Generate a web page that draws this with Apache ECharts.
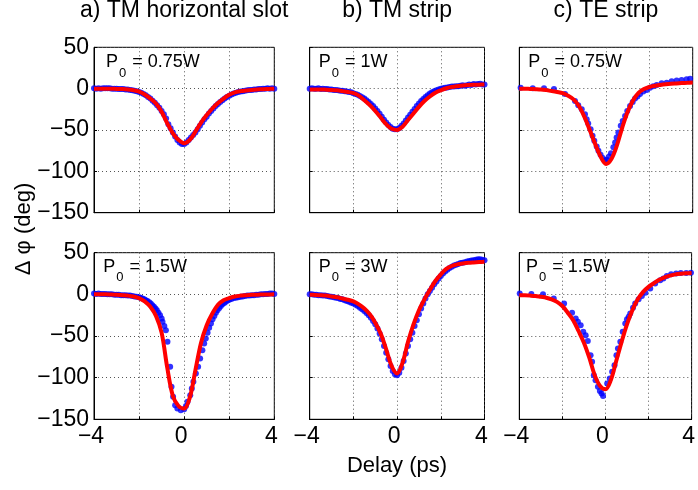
<!DOCTYPE html>
<html><head><meta charset="utf-8">
<script src="https://cdn.jsdelivr.net/npm/echarts@6/dist/echarts.min.js"></script>
<style>html,body{margin:0;padding:0;background:#fff}#c{width:698px;height:490px}</style>
</head><body><div id="c"></div>
<script>
// ---------- data ----------
const panelTitles = ['a) TM horizontal slot', 'b) TM strip', 'c) TE strip'];
const powerLabels = ['0.75W', '1W', '0.75W', '1.5W', '3W', '1.5W'];
const yTicks = [50, 0, -50, -100, -150];
const yTickLabels = ['50', '0', '\u221250', '\u2212100', '\u2212150'];
const xTicks = [-4, 0, 4];
const xTickLabels = ['\u22124', '0', '4'];
const xAxisTitle = 'Delay (ps)';
const yAxisTitle = '\u0394 \u03c6 (deg)';

// x samples of the fitted (red) curves
const delayFit = [-4,-3.75,-3.5,-3.25,-3,-2.75,-2.5,-2.25,-2,-1.75,-1.5,-1.25,-1,-0.75,-0.5,-0.25,0,0.25,0.5,0.75,1,1.25,1.5,1.75,2,2.25,2.5,2.75,3,3.25,3.5,3.75,4];
// x samples of the dense measured (blue) data
const delayDense = [-4.0,-3.9,-3.8,-3.7,-3.6,-3.5,-3.4,-3.3,-3.2,-3.1,-3.0,-2.9,-2.8,-2.7,-2.6,-2.5,-2.4,-2.3,-2.2,-2.1,-2.0,-1.9,-1.8,-1.7,-1.6,-1.5,-1.4,-1.3,-1.2,-1.1,-1.0,-0.9,-0.8,-0.7,-0.6,-0.5,-0.4,-0.3,-0.2,-0.1,0.0,0.1,0.2,0.3,0.4,0.5,0.6,0.7,0.8,0.9,1.0,1.1,1.2,1.3,1.4,1.5,1.6,1.7,1.8,1.9,2.0,2.1,2.2,2.3,2.4,2.5,2.6,2.7,2.8,2.9,3.0,3.1,3.2,3.3,3.4,3.5,3.6,3.7,3.8,3.9,4.0];

// a) top: P0 = 0.75W
const fitA1 = [0,0,0,0,-0.3,-0.5,-1,-2,-3.5,-7,-12,-18,-28,-42,-54,-62,-66,-62,-52,-41,-32,-24,-17.5,-12,-7.5,-4.5,-3,-2.2,-1.5,-1,-0.6,-0.3,0];
const dotsA1 = [0.5,0,0.5,0,0.5,0.5,0.5,0.5,0,0,0,
  -0.5,-0.5,-0.5,-1,-1,-1.5,-2,-2.5,-3,-4,
  -5,-6.5,-8,-10,-12,-14.5,-17,-20,-23,-27,
  -31,-36,-43,-48,-53,-58,-62,-65,-67,-67,
  -65,-62,-59,-56,-53,-49,-45,-41,-37,-34,
  -30,-27,-24,-21,-18.5,-16,-14,-12,-10,-8.5,
  -7,-6,-5,-4,-3.5,-3,-2.5,-2,-1.5,-1.5,
  -1,-1,-0.5,-0.5,0,0,0.5,0,0.5,0];

// b) top: P0 = 1W
const fitB1 = [-1,-1,-1,-1.2,-1.5,-2,-3,-4,-5.5,-8.5,-14,-20,-27,-35,-43,-48.5,-50,-46,-38,-30,-22,-15,-9.5,-5,-2,0.5,2,3,3.8,4.3,4.6,4.8,5];
const dotsB1 = [0,0.5,0,0,0.5,-0.5,0,-0.5,-0.5,-1,-1,
  -1.5,-1.5,-2,-2.5,-2.5,-3,-3.5,-4,-4.5,-5.5,
  -6.5,-7.5,-9,-10.5,-12,-14,-16,-18.5,-21,-24,
  -27,-30.5,-34,-37.5,-41,-44,-46.5,-48.5,-49,-49,
  -47.5,-45,-42,-38.5,-35,-31.5,-28,-24.5,-21,-18,
  -15,-12.5,-10,-8,-6,-4.5,-3,-2,-1,0,
  0.5,1,1.5,2,2.5,2.5,3,3,3.5,4,
  3.5,4,5,4.5,5.5,5,5.5,6,5,5];

// c) top: P0 = 0.75W
const fitC1 = [0,0,-0.3,-0.6,-1,-1.8,-2.8,-4,-5.5,-8.5,-13,-21,-34,-50,-67,-82,-91,-85,-69,-47,-28,-14,-5,-0.5,2,3.5,4.5,5.3,5.9,6.3,6.7,7,7.3];
const dotsC1X = [-3.94,-3.38,-2.86,-2.4,-1.89,-1.43,-1.28,-1.12,-0.97,-0.89,-0.82,-0.71,-0.62,-0.54,-0.43,-0.35,-0.25,-0.15,-0.05,0.03,0.14,0.23,0.34,0.42,0.49,0.57,0.68,0.77,0.88,0.98,1.11,1.23,1.34,1.45,1.57,1.72,1.88,2.03,2.18,2.34,2.57,2.8,3.03,3.26,3.49,3.72,3.88];
const dotsC1Y = [1,0.5,0.5,-0.5,-6.5,-15,-20,-25,-31,-37,-42,-49,-57,-63,-70,-75,-80,-84,-87,-86,-82,-78,-71,-65,-59,-53,-45,-39,-33,-27,-21,-16,-12,-9.5,-6.5,-3.5,-1.5,1,3,4.5,6.5,7,9,10,10.5,11.5,12];

// a) bottom: P0 = 1.5W
const fitA2 = [0,0,0,-0.2,-0.5,-1,-1.5,-2.5,-4.5,-8.5,-15,-26,-46,-88,-122,-134,-137,-124,-91,-58,-37,-23,-12.5,-7,-4.5,-2.5,-1.5,-1,-0.6,-0.4,-0.2,-0.1,0];
const dotsA2X = [-4.0,-3.9,-3.8,-3.7,-3.6,-3.5,-3.4,-3.3,-3.2,-3.1,-3.0,-2.9,-2.8,-2.7,-2.6,-2.5,-2.4,-2.3,-2.2,-2.1,-2.0,
  -1.93,-1.85,-1.77,-1.7,-1.63,-1.55,-1.48,-1.41,-1.34,-1.27,-1.21,-1.14,-1.07,-1.0,-0.96,-0.88,-0.81,-0.74,-0.62,-0.56,
  -0.49,-0.4,-0.3,-0.15,0,0.08,0.15,0.27,0.34,0.41,0.52,0.62,0.71,0.81,0.89,0.96,1.04,1.11,1.19,1.26,
  1.34,1.41,1.48,1.56,1.63,1.7,1.78,1.85,1.93,2.0,
  2.1,2.2,2.3,2.4,2.5,2.6,2.7,2.8,2.9,3.0,3.1,3.2,3.3,3.4,3.5,3.6,3.7,3.8,3.9,4.0];
const dotsA2Y = [1,0.5,1,0.5,0.5,0.5,0,0,0,-0.5,-0.5,-0.5,-1,-1,-1,-1.5,-1.5,-2,-2.5,-3,-3.5,
  -4,-5,-6,-7,-8,-9.5,-11,-13,-15,-17,-19,-22,-25,-29,-33,-38,-43,-57,-87,-111,
  -123,-133,-137,-139,-138,-134,-129,-121,-113,-105,-95,-87,-77,-67,-59,-53,-46,-40,-35,-30,
  -26,-22,-19,-16.5,-14,-12,-10.5,-9,-7.5,-6.5,
  -5.5,-4.5,-4,-3.5,-3,-2.5,-2,-1.5,-1.5,-1,-1,-0.5,-0.5,0,0,0.5,0.5,1,1,0.5];

// b) bottom: P0 = 3W
const fitB2 = [-0.5,-0.7,-1,-1.5,-2.5,-3.5,-5,-6.5,-8.5,-12,-17,-24,-34,-47,-66,-86,-95,-82,-57,-36,-19,-6,5.5,16,24,30.5,34,36,37,37.8,38.3,38.7,39];
const dotsB2 = [0,0,-0.5,-0.5,-1,-1,-1.5,-1.5,-2,-2.5,-3,
  -3.5,-4,-4.5,-5.5,-6,-7,-8,-9,-10,-11,
  -12.5,-14,-16,-18,-20,-22.5,-25,-28,-32,-36,
  -41,-47,-54,-62,-70,-78,-86,-92,-96,-97,
  -94,-88,-80,-71,-62,-54,-46,-38,-31,-24,
  -17,-11,-5,0,4,8,12,15.5,19,22,
  25,27.5,29.5,31.5,33,34.5,35.5,36.5,37.5,38,
  38.5,39.5,40,40.5,41,41.5,42,42,41.5,41];

// c) bottom: P0 = 1.5W
const fitC2 = [-1,-1.2,-1.5,-2,-3,-4,-6,-9,-14,-22,-31,-44,-58,-76,-97,-110,-114,-103,-80,-57,-36,-19,-6,3,9,13.5,17.5,20.5,22.5,24,24.8,25.3,25.6];
const dotsC2X = [-3.98,-3.44,-2.9,-2.4,-1.92,-1.55,-1.38,-1.28,-1.15,-1.03,-0.92,-0.82,-0.69,-0.62,-0.54,-0.46,-0.35,-0.26,-0.18,-0.11,0.08,0.2,0.31,0.42,0.51,0.58,0.69,0.8,0.92,1.0,1.08,1.15,1.28,1.38,1.54,1.69,1.85,2.08,2.31,2.54,2.69,2.85,3.05,3.28,3.5,3.75,3.97];
const dotsC2Y = [1,0.5,0,-5,-11,-22,-29,-33,-37,-45,-49,-56,-73,-81,-97,-103,-111,-116,-119,-122,-107,-101,-93,-85,-73,-65,-57,-45,-35,-30,-27,-23,-16,-11,-6,-2,2,7,13,17,19,22,24,25,25.5,25.5,26];

// ---------- layout ----------
const FONT = '"Liberation Sans", Arial, Helvetica, sans-serif';
const colLeft = [94, 309.7, 519.3];
const colWidth = [180.3, 174.8, 173.4];
const rowTop = [47.3, 252.7];
const rowHeight = [165.4, 166.6];
const labelPos = [[106, 53.5], [318.7, 53.5], [528.3, 53.5], [103.3, 258], [318.7, 258], [526, 258]];

const panels = [
  {fit: fitA1, dx: delayDense, dy: dotsA1},
  {fit: fitB1, dx: delayDense, dy: dotsB1},
  {fit: fitC1, dx: dotsC1X, dy: dotsC1Y},
  {fit: fitA2, dx: dotsA2X, dy: dotsA2Y},
  {fit: fitB2, dx: delayDense, dy: dotsB2},
  {fit: fitC2, dx: dotsC2X, dy: dotsC2Y}
];

const grids = [], xAxes = [], yAxes = [], series = [], graphics = [];
panels.forEach((p, i) => {
  const row = Math.floor(i / 3), col = i % 3;
  grids.push({left: colLeft[col], top: rowTop[row], width: colWidth[col], height: rowHeight[row],
    show: true, borderColor: '#000', borderWidth: 1, backgroundColor: '#fff'});
  xAxes.push({type: 'value', gridIndex: i, min: -4, max: 4, interval: 2,
    axisLine: {show: true, onZero: false, lineStyle: {color: '#000', width: 1}},
    axisTick: {show: true, inside: true, length: 3, lineStyle: {color: '#000'}},
    splitLine: {show: true, lineStyle: {color: '#555', width: 1, type: [1, 3]}},
    axisLabel: {show: row === 1, fontSize: 23, fontFamily: FONT, color: '#000', margin: 6,
      padding: [0, 6, 0, 0],
      formatter: v => { const k = xTicks.indexOf(v); return k >= 0 ? xTickLabels[k] : ''; }}
  });
  yAxes.push({type: 'value', gridIndex: i, min: -150, max: 50, interval: 50,
    axisLine: {show: true, onZero: false, lineStyle: {color: '#000', width: 1}},
    axisTick: {show: true, inside: true, length: 3, lineStyle: {color: '#000'}},
    splitLine: {show: true, lineStyle: {color: '#555', width: 1, type: [1, 3]}},
    axisLabel: {show: col === 0, fontSize: 23, fontFamily: FONT, color: '#000', margin: 5,
      formatter: v => { const k = yTicks.indexOf(v); return k >= 0 ? yTickLabels[k] : ''; }}
  });
  series.push({type: 'scatter', xAxisIndex: i, yAxisIndex: i, symbol: 'circle', symbolSize: 6,
    itemStyle: {color: '#0000ff'}, z: 2, silent: true, clip: false,
    data: p.dx.map((x, k) => [x, p.dy[k]])});
  series.push({type: 'line', xAxisIndex: i, yAxisIndex: i, showSymbol: false, smooth: 0.35,
    lineStyle: {color: '#ff0000', width: 4}, z: 3, silent: true,
    data: delayFit.map((x, k) => [x, p.fit[k]])});
  graphics.push({type: 'text', x: labelPos[i][0], y: labelPos[i][1], z: 10,
    style: {text: '{p|P}{s|0}{p| = ' + powerLabels[i] + '}', align: 'left', verticalAlign: 'top',
      rich: {
        p: {fontSize: 18, fontFamily: FONT, fill: '#000', lineHeight: 20, verticalAlign: 'top'},
        s: {fontSize: 13, fontFamily: FONT, fill: '#000', lineHeight: 14, padding: [13, 1, 0, 1], verticalAlign: 'top'}
      }}});
});
for (let c = 0; c < 3; c++) {
  graphics.push({type: 'text', x: colLeft[c] + colWidth[c] / 2, y: 11,
    style: {text: panelTitles[c], font: '23px ' + FONT, fill: '#000', align: 'center', verticalAlign: 'middle'}});
}
graphics.push({type: 'text', x: 397, y: 466,
  style: {text: xAxisTitle, font: '22px ' + FONT, fill: '#000', align: 'center', verticalAlign: 'middle'}});
graphics.push({type: 'text', x: 24, y: 229, rotation: Math.PI / 2,
  style: {text: yAxisTitle, font: '22px ' + FONT, fill: '#000', align: 'center', verticalAlign: 'middle'}});

const chart = echarts.init(document.getElementById('c'));
chart.setOption({
  animation: false,
  backgroundColor: '#fff',
  grid: grids, xAxis: xAxes, yAxis: yAxes, series: series, graphic: graphics
});
</script></body></html>
